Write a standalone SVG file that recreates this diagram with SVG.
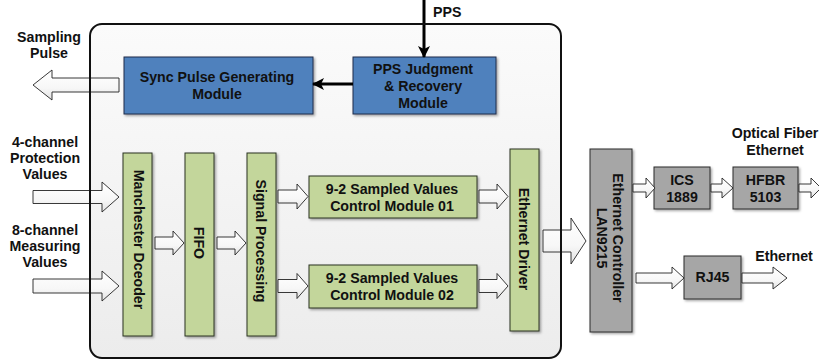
<svg xmlns="http://www.w3.org/2000/svg" width="819" height="361" viewBox="0 0 819 361">
  <defs>
    <linearGradient id="panelFill" x1="0" y1="0" x2="0" y2="1">
      <stop offset="0" stop-color="#fbfbfb"/>
      <stop offset="1" stop-color="#ececec"/>
    </linearGradient>
    <linearGradient id="arrowFill" x1="0" y1="0" x2="0" y2="1">
      <stop offset="0" stop-color="#ffffff"/>
      <stop offset="0.6" stop-color="#f7f7f7"/>
      <stop offset="1" stop-color="#e2e2e2"/>
    </linearGradient>
    <filter id="shadow" x="-10%" y="-10%" width="130%" height="130%">
      <feDropShadow dx="1.5" dy="1.5" stdDeviation="1" flood-color="#000" flood-opacity="0.35"/>
    </filter>
    <marker id="head" viewBox="0 0 12 12" refX="11" refY="6" markerWidth="12" markerHeight="12" markerUnits="userSpaceOnUse" orient="auto">
      <path d="M0,0 L12,6 L0,12 L3,6 Z" fill="#000"/>
    </marker>
    <style>
      text { font-family: "Liberation Sans", Arial, sans-serif; font-weight: bold; font-size: 14.2px; fill: #111; }
      .c { text-anchor: middle; }
      .l { text-anchor: start; }
      .blue { fill: #4f81bd; stroke: #1f2f4a; stroke-width: 1; filter: url(#shadow); }
      .green { fill: #c3d69b; stroke: #2b3320; stroke-width: 1; filter: url(#shadow); }
      .gray { fill: #a6a6a6; stroke: #2a2a2a; stroke-width: 1; filter: url(#shadow); }
      .blk { fill: url(#arrowFill); stroke: #222; stroke-width: 0.9; stroke-linejoin: miter; }
      .line { fill: none; stroke: #000; stroke-width: 3; marker-end: url(#head); }
      .frame { fill: none; stroke: #111; stroke-width: 2; }
    </style>
  </defs>

  <!-- FPGA panel background -->
  <g id="panel">
    <rect x="90" y="24" width="471" height="334" rx="12" ry="12" fill="url(#panelFill)"/>
  </g>

  <!-- Upper row: synchronisation -->
  <g id="sync-pulse">
    <rect class="blue" x="124" y="57" width="189" height="57"/>
    <text class="c" x="217" y="82">Sync Pulse Generating</text>
    <text class="c" x="217" y="99">Module</text>
  </g>
  <g id="pps-judgment">
    <rect class="blue" x="353" y="57" width="143" height="57"/>
    <text class="c" x="423" y="74">PPS Judgment</text>
    <text class="c" x="423" y="91">&amp; Recovery</text>
    <text class="c" x="423" y="108">Module</text>
  </g>

  <!-- Sampling chain -->
  <g id="manchester-decoder">
    <rect class="green" x="123" y="153" width="29" height="183"/>
    <text class="c" transform="translate(133.5,239.5) rotate(90)">Manchester Dceoder</text>
  </g>
  <g id="fifo">
    <rect class="green" x="185" y="153" width="29" height="183"/>
    <text class="c" transform="translate(194,243) rotate(90)">FIFO</text>
  </g>
  <g id="signal-processing">
    <rect class="green" x="247" y="153" width="29" height="183"/>
    <text class="c" transform="translate(256,241) rotate(90)">Signal Processing</text>
  </g>
  <g id="sv-module-01">
    <rect class="green" x="309" y="176" width="168" height="42"/>
    <text class="c" x="392" y="194">9-2 Sampled Values</text>
    <text class="c" x="392" y="211">Control Module 01</text>
  </g>
  <g id="sv-module-02">
    <rect class="green" x="309" y="265" width="168" height="43"/>
    <text class="c" x="392" y="283">9-2 Sampled Values</text>
    <text class="c" x="392" y="300">Control Module 02</text>
  </g>
  <g id="ethernet-driver">
    <rect class="green" x="510" y="149" width="29" height="182"/>
    <text class="c" transform="translate(519,239) rotate(90)">Ethernet Driver</text>
  </g>

  <!-- Network side -->
  <g id="ethernet-controller">
    <rect class="gray" x="590" y="149" width="42" height="183"/>
    <text class="c" transform="translate(613,238) rotate(90)">Ethernet Controller</text>
    <text class="c" transform="translate(597,238) rotate(90)">LAN9215</text>
  </g>
  <g id="ics1889">
    <rect class="gray" x="654" y="167" width="56" height="42"/>
    <text class="c" x="682" y="185">ICS</text>
    <text class="c" x="682" y="202">1889</text>
  </g>
  <g id="hfbr5103">
    <rect class="gray" x="733" y="167" width="65" height="42"/>
    <text class="c" x="765.5" y="185">HFBR</text>
    <text class="c" x="765.5" y="202">5103</text>
  </g>
  <g id="rj45">
    <rect class="gray" x="684" y="256" width="57" height="43"/>
    <text class="c" x="712.5" y="282">RJ45</text>
  </g>

  <!-- Connectors -->
  <g id="connectors">
    <line class="line" x1="424" y1="0" x2="424" y2="57"/>
    <line class="line" x1="353" y1="84" x2="313" y2="84"/>
    <path class="blk" d="M119,78 H52 V70 L33,85 L52,100 V92 H119 Z"/>
    <path class="blk" d="M33,190.5 H102 V182 L119,197 L102,212 V203.5 H33 Z"/>
    <path class="blk" d="M33,279 H102 V271 L119,286 L102,301 V293 H33 Z"/>
    <path class="blk" d="M155,237 H173 V231 L184,243 L173,255 V249 H155 Z"/>
    <path class="blk" d="M217,237 H235 V231 L246,243 L235,255 V249 H217 Z"/>
    <path class="blk" d="M278,190 H297 V184 L308,196.5 L297,209 V203 H278 Z"/>
    <path class="blk" d="M278,279.5 H297 V273.5 L308,286 L297,298.5 V292.5 H278 Z"/>
    <path class="blk" d="M479,190 H497 V184 L508,196.5 L497,209 V203 H479 Z"/>
    <path class="blk" d="M479,279.5 H497 V273.5 L508,286 L497,298.5 V292.5 H479 Z"/>
    <path class="blk" d="M543,230 H571 V218 L586,241 L571,264 V252 H543 Z"/>
    <path class="blk" d="M633,184 H646 V178 L655,188 L646,198 V192 H633 Z"/>
    <path class="blk" d="M711,184 H722 V178 L733,188 L722,198 V192 H711 Z"/>
    <path class="blk" d="M799,184 H811 V178 L821,188 L811,198 V192 H799 Z"/>
    <path class="blk" d="M636,273 H672 V267 L684,278 L672,289 V283 H636 Z"/>
    <path class="blk" d="M742,273 H773 V267 L787,278 L773,289 V283 H742 Z"/>
  </g>

  <!-- FPGA panel outline, drawn over the arrows that cross it -->
  <rect class="frame" x="90" y="24" width="471" height="334" rx="12" ry="12"/>

  <!-- Signal labels -->
  <g id="labels">
    <text class="l" x="433" y="17">PPS</text>
    <text class="c" x="49" y="42">Sampling</text>
    <text class="c" x="49" y="58">Pulse</text>
    <text class="c" x="45" y="147">4-channel</text>
    <text class="c" x="45" y="163">Protection</text>
    <text class="c" x="45" y="179">Values</text>
    <text class="c" x="45" y="235">8-channel</text>
    <text class="c" x="45" y="251">Measuring</text>
    <text class="c" x="45" y="267">Values</text>
    <text class="c" x="775" y="138">Optical Fiber</text>
    <text class="c" x="775" y="155">Ethernet</text>
    <text class="c" x="784" y="261">Ethernet</text>
  </g>
</svg>
